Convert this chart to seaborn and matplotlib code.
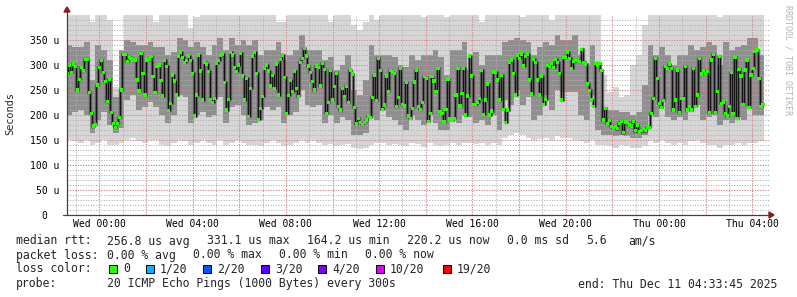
import numpy as np
import pandas as pd
import matplotlib
matplotlib.use("Agg")
import matplotlib.pyplot as plt
import matplotlib.dates as mdates
from matplotlib.lines import Line2D
from matplotlib.patches import Polygon, Rectangle
import seaborn as sns

# ---------------- data ----------------
data_start = "2025-12-09 22:35:00"
data_end = "2025-12-11 04:30:00"
view_start = "2025-12-09 22:36:54"
view_end = "2025-12-11 04:43:00"

# median RTT (microseconds), one value per 5-minute step
median_rtt = [
    283, 300, 285, 302, 297, 250, 271, 295, 289, 311, 311, 245, 203, 178, 181, 260, 295, 309,
    285, 267, 227, 272, 205, 183, 175, 183, 195, 250, 321, 321, 307, 315, 313, 310, 310, 270,
    248, 323, 283, 240, 310, 311, 317, 277, 245, 297, 300, 269, 238, 309, 297, 209, 223, 280,
    268, 240, 318, 326, 315, 305, 309, 318, 309, 283, 198, 240, 320, 288, 230, 305, 302, 287,
    230, 225, 233, 303, 309, 320, 322, 265, 210, 231, 325, 320, 295, 287, 300,
    323, 278, 230, 273, 197, 253, 318, 325, 283, 191, 213, 237, 293, 300, 288, 258, 279, 253,
    302, 240, 311, 320, 275, 203, 239, 269, 247, 288, 253, 237, 305, 313, 333, 318, 298, 285,
    267, 250, 298, 295, 258, 303, 291, 203, 225, 289, 230, 257, 283, 217, 210, 253, 237, 257,
    225, 290, 282, 215, 182, 193, 185, 181, 185, 190, 198, 195, 235, 280, 229, 313, 289, 211,
    220, 278, 247, 289, 286, 283, 217, 235, 293, 221, 218, 265, 198, 193, 213, 266, 290,
    217, 211, 225, 277, 273, 187, 203, 277, 268, 247, 293, 207, 203, 186, 211, 272, 193, 190,
    193, 240, 293, 218, 243, 293, 200, 238, 318, 278, 221, 221, 225, 233, 289, 201, 230, 262,
    200, 208, 286, 285, 270, 230, 279, 211, 185, 210, 305, 310, 283, 240, 320, 313, 322, 298,
    317, 322, 270, 242, 311, 305, 270, 240, 278, 221, 231, 299, 297, 303, 295, 311, 305, 283,
    230, 315, 315, 326, 313, 293, 307, 310, 309, 307, 331, 305, 302, 262, 249, 230, 217,
    303, 300, 303, 289, 190, 213, 183, 189, 177, 175, 177, 173, 183, 187, 165, 186, 185, 180,
    178, 187, 169, 180, 166, 169, 173, 169, 175, 175, 203, 233, 313, 273, 223, 215, 229, 297,
    293, 302, 293, 210, 230, 290, 205, 233, 233, 297, 210, 217, 210, 293, 217, 240, 313, 282,
    289, 283, 287, 205, 310, 321, 205, 247, 317, 223, 226, 203, 198, 217, 285, 203, 315, 193,
    291, 278, 221, 290, 310, 215, 280, 293, 327, 330, 273, 217, 221,
]

# smoke envelope per 15-minute bin (microseconds)
smoke_max = [
    405, 405, 405, 405, 385, 405, 405, 390, 255, 330, 405, 405, 405, 405, 405, 385, 405, 405, 405, 405,
    405, 375, 395, 405, 405, 405, 405, 405, 405, 405,
    405, 405, 405, 405, 405, 405, 385, 385, 405, 405, 405, 405, 405, 405, 405, 385, 405, 405, 405, 380,
    370, 385, 405, 390, 405, 405, 405, 405, 405, 405,
    405, 395, 405, 405, 405, 395, 405, 405, 405, 405, 405, 385, 405, 405, 405, 405, 405, 405, 395, 405,
    405, 405, 405, 390, 405, 405, 405, 405, 405, 405,
    405, 400, 280, 245, 255, 235, 240, 300, 320, 380, 405, 405, 405, 405, 400, 405, 405, 405, 405, 405,
    405, 400, 395, 405, 405, 405, 405, 405, 405, 405,
]
smoke_min = [
    150, 148, 145, 150, 140, 145, 150, 140, 140, 145, 150, 155, 148, 145, 150, 150, 140, 138, 145, 150,
    148, 140, 145, 150, 145, 140, 150, 140, 145, 150,
    145, 140, 140, 138, 145, 150, 145, 138, 140, 145, 150, 145, 150, 145, 140, 142, 138, 140, 142, 135,
    132, 135, 140, 145, 145, 140, 142, 140, 138, 145,
    142, 137, 145, 140, 138, 140, 145, 140, 145, 145, 142, 145, 140, 145, 140, 155, 160, 165, 160, 155,
    150, 152, 155, 150, 158, 155, 155, 150, 148, 145,
    150, 140, 140, 138, 135, 140, 138, 135, 135, 138, 150, 145, 150, 145, 140, 145, 140, 148, 150, 145,
    140, 140, 135, 140, 140, 145, 140, 145, 145, 148,
]
smoke_lo = [
    200, 205, 210, 200, 165, 190, 205, 180, 165, 175, 230, 240, 210, 215, 225, 215, 200, 185, 200, 240,
    235, 185, 200, 205, 195, 200, 235, 185, 215, 220,
    200, 180, 185, 190, 215, 210, 215, 185, 200, 205, 250, 220, 215, 220, 185, 200, 185, 195, 190, 160,
    160, 165, 195, 190, 210, 195, 190, 180, 170, 200,
    190, 180, 205, 185, 170, 170, 190, 185, 200, 195, 185, 190, 180, 200, 170, 230, 220, 250, 220, 235,
    190, 200, 240, 210, 250, 245, 245, 245, 200, 190,
    240, 170, 160, 160, 158, 160, 158, 155, 155, 160, 200, 195, 230, 195, 190, 195, 190, 210, 220, 190,
    195, 200, 180, 190, 185, 195, 190, 220, 200, 200,
]
smoke_hi = [
    340, 335, 335, 345, 270, 340, 330, 310, 235, 330, 350, 345, 340, 340, 345, 335, 335, 320, 325, 355,
    350, 335, 345, 335, 320, 340, 355, 330, 355, 340,
    350, 340, 350, 320, 330, 330, 345, 310, 320, 330, 360, 330, 330, 330, 310, 315, 290, 300, 320, 250,
    240, 270, 340, 320, 320, 320, 315, 300, 295, 320,
    310, 320, 320, 330, 315, 280, 330, 330, 345, 290, 325, 300, 320, 320, 320, 345, 350, 355, 350, 345,
    320, 335, 345, 340, 360, 350, 350, 360, 320, 300,
    340, 300, 215, 210, 210, 205, 205, 200, 205, 260, 340, 320, 335, 320, 300, 320, 320, 340, 330, 335,
    345, 340, 300, 345, 330, 335, 340, 355, 355, 320,
]

y_ticks = [0, 50, 100, 150, 200, 250, 300, 350]
y_tick_labels = ["0  ", "50 u", "100 u", "150 u", "200 u", "250 u", "300 u", "350 u"]
x_tick_times = ["2025-12-10 00:00", "2025-12-10 04:00", "2025-12-10 08:00", "2025-12-10 12:00",
                "2025-12-10 16:00", "2025-12-10 20:00", "2025-12-11 00:00", "2025-12-11 04:00"]
x_tick_labels = ["Wed 00:00", "Wed 04:00", "Wed 08:00", "Wed 12:00",
                 "Wed 16:00", "Wed 20:00", "Thu 00:00", "Thu 04:00"]

stats_label = "median rtt:"
stats_items = ["256.8 us avg", "331.1 us max", "164.2 us min", "220.2 us now", "0.0 ms sd", "5.6", "am/s"]
loss_label = "packet loss:"
loss_items = ["0.00 % avg", "0.00 % max", "0.00 % min", "0.00 % now"]
color_label = "loss color:"
loss_names = ["0", "1/20", "2/20", "3/20", "4/20", "10/20", "19/20"]
loss_colors = ["#26ff00", "#00b8ff", "#0059ff", "#5e00ff", "#7e00ff", "#dd00ff", "#ff0000"]
probe_label = "probe:"
probe_text = "20 ICMP Echo Pings (1000 Bytes) every 300s"
end_text = "end: Thu Dec 11 04:33:45 2025"
watermark = "RRDTOOL / TOBI OETIKER"

# ---------------- figure ----------------
sns.set_style("white")
plt.rcParams["font.family"] = ["DejaVu Sans Mono", "DejaVu Sans"]

W, H = 797, 297
fig = plt.figure(figsize=(W / 100, H / 100), dpi=100)
fig.patch.set_facecolor("white")
ax = fig.add_axes([67 / W, (H - 215) / H, 702 / W, 200 / H])
ax.set_facecolor("white")

t0, t1 = pd.Timestamp(data_start), pd.Timestamp(data_end)
n = len(median_rtt)
edges = pd.date_range(t0, t1, periods=n + 1)
mids = edges[:-1] + (edges[1] - edges[0]) / 2
med_df = pd.DataFrame({"time": mids, "rtt": median_rtt})

bin_edges = pd.date_range(t0, t1, periods=len(smoke_max) + 1)
def ext(v):
    return np.r_[v, v[-1]]

ax.fill_between(bin_edges, ext(smoke_min), ext(smoke_max), step="post",
                color="#d6d6d6", lw=0, zorder=1)
ax.fill_between(bin_edges, ext(smoke_lo), ext(smoke_hi), step="post",
                color="#8f8f8f", lw=0, zorder=1.2)

# grid
xs0, xs1 = pd.Timestamp(view_start), pd.Timestamp(view_end)
for h in pd.date_range("2025-12-09 23:00", xs1, freq="1h"):
    ax.axvline(h, color="#b0b0b0", lw=0.75, ls=(0, (1, 1.5)), zorder=2)
for v in range(10, 400, 10):
    ax.axhline(v, color="#b0b0b0", lw=0.75, ls=(0, (1, 1.5)), zorder=2)
for h in pd.date_range("2025-12-10 00:00", xs1, freq="2h"):
    ax.axvline(h, color="#e87878", lw=0.75, ls=(0, (1, 1.5)), alpha=0.85, zorder=2.1)
for v in range(50, 400, 50):
    ax.axhline(v, color="#e87878", lw=0.75, ls=(0, (1, 1.5)), alpha=0.85, zorder=2.1)

# dark smoke core along the median, then the median itself
sns.lineplot(data=med_df, x="time", y="rtt", drawstyle="steps-mid", color="#4a4a4a",
             linewidth=2.4, alpha=0.7, ax=ax, zorder=2.6)
sns.lineplot(data=med_df, x="time", y="rtt", drawstyle="steps-mid", color="#141414",
             linewidth=0.8, ax=ax, zorder=3)
sns.scatterplot(data=med_df, x="time", y="rtt", marker="s", s=5, color=loss_colors[0],
                edgecolor="none", linewidth=0, ax=ax, zorder=4)

ax.set_xlim(xs0, xs1)
ax.set_ylim(0, 400)
for s in ax.spines.values():
    s.set_visible(False)
ax.set_xlabel("")
ax.set_ylabel("")
ax.set_yticks(y_ticks)
ax.set_yticklabels(y_tick_labels, fontsize=7)
ax.set_xticks([mdates.date2num(pd.Timestamp(t)) for t in x_tick_times])
ax.set_xticklabels(x_tick_labels, fontsize=7)
ax.tick_params(axis="y", length=0, pad=5.5, colors="#000000")
ax.tick_params(axis="x", length=0, pad=3.2, colors="#000000")
ax.grid(False)

# axis lines & arrows (pixel coords)
def P(x, y):
    return (x / W, 1 - y / H)

fig.add_artist(Line2D([P(67, 215)[0], P(67, 10)[0]], [P(67, 215)[1], P(67, 10)[1]],
                      color="#404040", lw=0.9))
fig.add_artist(Line2D([P(63, 215)[0], P(770, 215)[0]], [P(63, 215)[1], P(770, 215)[1]],
                      color="#404040", lw=0.9))
fig.add_artist(Polygon([P(64, 12), P(70, 12), P(67, 7)], closed=True,
                       color="#8b1a1a", transform=fig.transFigure))
fig.add_artist(Polygon([P(769, 212), P(769, 218), P(774, 215)], closed=True,
                       color="#8b1a1a", transform=fig.transFigure))

fig.text(*P(10, 114), "Seconds", rotation=90, fontsize=7.4, ha="center", va="center")
fig.text(*P(788, 5), watermark, rotation=270, fontsize=6, color="#b4b4b4",
         ha="center", va="top")

fs = 8.3
def T(x, y, s, **kw):
    fig.text(*P(x, y), s, fontsize=fs, ha="left", va="center", **kw)

T(16, 241, stats_label)
for x, s in zip([107, 207, 307, 407, 507, 586, 628], stats_items):
    T(x, 241, s)
T(16, 255, loss_label)
for x, s in zip([107, 193, 279, 365], loss_items):
    T(x, 255, s)
T(16, 269, color_label)
for bx, name, col in zip([109, 146, 203, 261, 318, 376, 443], loss_names, loss_colors):
    fig.add_artist(Rectangle(P(bx, 273), 8 / W, 8 / H, transform=fig.transFigure,
                             facecolor=col, edgecolor="black", lw=0.7))
    T(bx + 14, 269, name)
T(16, 284, probe_label)
T(107, 284, probe_text)
T(578, 284, end_text)

fig.savefig("out.png", dpi=100, facecolor="white")
